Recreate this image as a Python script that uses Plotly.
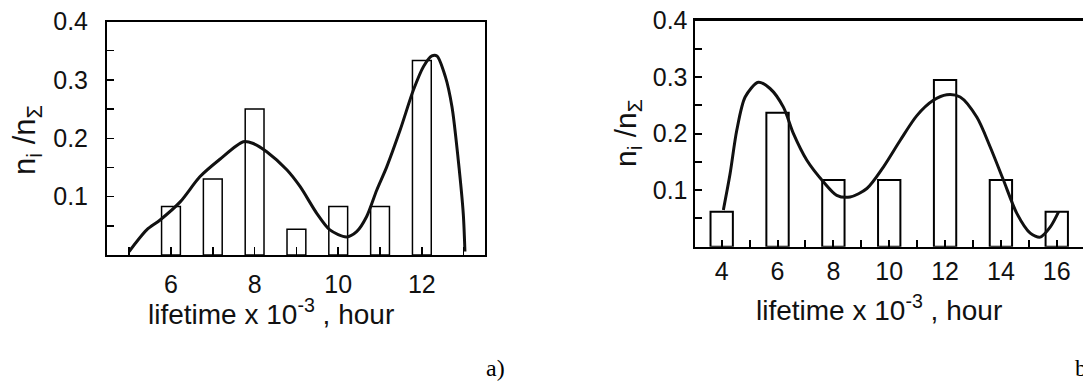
import plotly.graph_objects as go

# ---------------- data ----------------
# panel a)
a_bins = [6, 7, 8, 9, 10, 11, 12]
a_freq = [0.083, 0.13, 0.25, 0.044, 0.083, 0.083, 0.333]
a_curve_x = [5.00, 5.42, 5.74, 6.22, 6.69, 7.17, 7.73, 7.97, 8.29, 8.77, 9.09, 9.49,
             9.80, 10.20, 10.44, 10.68, 10.92, 11.16, 11.48, 11.80, 12.04, 12.24,
             12.36, 12.56, 12.72, 12.87, 12.99, 13.03]
a_curve_y = [0.006, 0.043, 0.060, 0.091, 0.134, 0.164, 0.194, 0.191, 0.177, 0.146, 0.117, 0.071,
             0.043, 0.031, 0.040, 0.066, 0.111, 0.151, 0.214, 0.283, 0.323, 0.341,
             0.341, 0.306, 0.254, 0.163, 0.071, 0.006]

# panel b)
b_bins = [4, 6, 8, 10, 12, 14, 16]
b_freq = [0.062, 0.237, 0.118, 0.118, 0.295, 0.118, 0.062]
b_curve_x = [4.06, 4.30, 4.54, 4.84, 5.31, 5.73, 6.21, 6.57, 7.05, 7.64, 8.12, 8.60,
             9.20, 9.79, 10.39, 10.99, 11.58, 12.06, 12.54, 13.14, 13.62, 14.09,
             14.57, 15.05, 15.41, 15.77, 16.07]
b_curve_y = [0.065, 0.129, 0.206, 0.265, 0.291, 0.280, 0.247, 0.200, 0.153, 0.115, 0.091, 0.088,
             0.103, 0.141, 0.188, 0.232, 0.259, 0.269, 0.265, 0.229, 0.176, 0.118,
             0.059, 0.024, 0.017, 0.035, 0.062]

a_xticks = [6, 8, 10, 12]
b_xticks = [4, 6, 8, 10, 12, 14, 16]
y_ticks = [0.1, 0.2, 0.3, 0.4]
y_ticktext = ["0.1", "0.2", "0.3", "0.4"]

x_title = "lifetime x 10<sup>-3</sup> , hour"
y_title = "n<sub>i</sub> /n<sub>Σ</sub>"

SANS = "Liberation Sans, Arial, sans-serif"
SERIF = "Liberation Serif, Times New Roman, serif"

fig = go.Figure()

fig.add_trace(go.Bar(x=a_bins, y=a_freq, width=0.45, xaxis="x", yaxis="y",
                     marker=dict(color="white", line=dict(color="black", width=1.5)),
                     showlegend=False))
fig.add_trace(go.Scatter(x=a_curve_x, y=a_curve_y, mode="lines", xaxis="x", yaxis="y",
                         line=dict(color="#111111", width=3, shape="spline", smoothing=0.8),
                         showlegend=False))
fig.add_trace(go.Bar(x=b_bins, y=b_freq, width=0.8, xaxis="x2", yaxis="y2",
                     marker=dict(color="white", line=dict(color="black", width=2)),
                     showlegend=False))
fig.add_trace(go.Scatter(x=b_curve_x, y=b_curve_y, mode="lines", xaxis="x2", yaxis="y2",
                         line=dict(color="#111111", width=3, shape="spline", smoothing=0.8),
                         showlegend=False))

W, H = 1083, 385

def px_x(p):
    return p / W

def px_y(p):
    return 1 - p / H

tickfont = dict(family=SANS, size=25, color="#111111")
common_axis = dict(showgrid=False, zeroline=False, showline=True, linecolor="black",
                   ticks="inside", tickcolor="black", tickfont=tickfont, fixedrange=True,
                   automargin=False)

fig.update_layout(
    template="none",
    width=W, height=H,
    margin=dict(l=0, r=0, t=0, b=0, pad=0),
    paper_bgcolor="white", plot_bgcolor="white",
    bargap=0,
    xaxis=dict(common_axis, domain=[px_x(107), px_x(485)], range=[4.47, 13.51],
               tickvals=a_xticks, ticklen=8, tickwidth=1.5, linewidth=2, mirror=True,
               minor=dict(dtick=1, tick0=0, ticks="inside", ticklen=8, tickcolor="black", tickwidth=1.5),
               ticklabelstandoff=6, anchor="y"),
    yaxis=dict(common_axis, domain=[px_y(255), px_y(21.5)], range=[0, 0.4],
               tickvals=y_ticks, ticktext=y_ticktext, ticklen=7, tickwidth=1.5, linewidth=2, mirror=True,
               minor=dict(dtick=0.05, tick0=0, ticks="inside", ticklen=7, tickcolor="black", tickwidth=1.5),
               ticklabelstandoff=12, anchor="x"),
    xaxis2=dict(common_axis, domain=[px_x(695), 1.0], range=[3.044, 16.94],
                tickvals=b_xticks, ticklen=7, tickwidth=2, linewidth=2.5, mirror=True,
                minor=dict(dtick=1, tick0=0, ticks="inside", ticklen=7, tickcolor="black", tickwidth=2),
                ticklabelstandoff=1, anchor="y2"),
    yaxis2=dict(common_axis, domain=[px_y(246.7), px_y(20.7)], range=[0, 0.4],
                tickvals=y_ticks, ticktext=y_ticktext, ticklen=7, tickwidth=2, linewidth=2.5, mirror=False,
                minor=dict(dtick=0.05, tick0=0, ticks="inside", ticklen=7, tickcolor="black", tickwidth=2),
                ticklabelstandoff=0, anchor="x2"),
)

annots = [
    dict(text=x_title, x=px_x(271), y=px_y(312), font=dict(family=SANS, size=28, color="#111111")),
    dict(text=x_title, x=px_x(879), y=px_y(308), font=dict(family=SANS, size=28, color="#111111")),
    dict(text=y_title, x=px_x(27), y=px_y(140), textangle=-90, font=dict(family=SANS, size=31, color="#111111")),
    dict(text=y_title, x=px_x(627), y=px_y(133), textangle=-90, font=dict(family=SANS, size=30, color="#111111")),
    dict(text="a)", x=px_x(495), y=px_y(368), font=dict(family=SERIF, size=24, color="black")),
    dict(text="b)", x=px_x(1073), y=px_y(368), xanchor="left", font=dict(family=SERIF, size=24, color="black")),
]
for a in annots:
    base = dict(xref="paper", yref="paper", showarrow=False, xanchor="center", yanchor="middle")
    base.update(a)
    fig.add_annotation(**base)

fig.write_html("out.html", config={"displayModeBar": False, "staticPlot": True},
               post_script="document.body.style.margin='0';document.body.style.overflow='hidden';")
